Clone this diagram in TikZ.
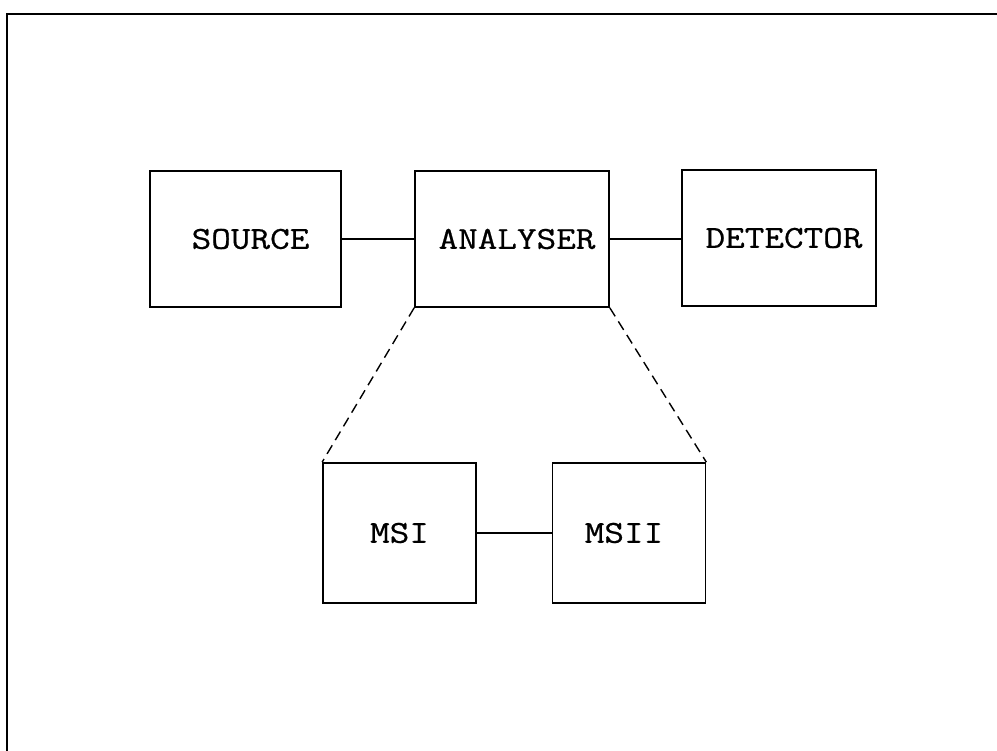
\documentclass[tikz,border=0pt]{standalone}
\usepackage{fontspec}
\usepackage{graphicx}
\newfontfamily\typefont[FakeBold=0.6]{Latin Modern Mono}
\newcommand{\lbltext}[1]{\scalebox{1.19}[1]{#1}}
\begin{document}
\begin{tikzpicture}[x=1pt,y=-1pt,
  blockbox/.style={draw, line width=1.7pt, minimum width=0pt, minimum height=0pt, inner sep=0pt, font=\typefont\bfseries\fontsize{32}{32}\selectfont},
  link/.style={line width=1.7pt},
  dashlink/.style={line width=1.4pt, dash pattern=on 10pt off 6pt}]
\useasboundingbox (0,0) rectangle (997,751);
\fill[white] (0,0) rectangle (997,751);
% frame
\coordinate (ftl) at (7,14);
\coordinate (ftr) at (997,14);
\coordinate (fbl) at (7,751);
\draw[line width=2.6pt] (ftr) -- (ftl) -- (fbl);
% blocks
\node[blockbox, minimum width=191pt, minimum height=136pt] (src) at (245.5,239) {\raisebox{-2pt}{\hspace*{10pt}\lbltext{SOURCE}}};
\node[blockbox, minimum width=194pt, minimum height=136pt] (ana) at (512,239) {\raisebox{-2pt}{\hspace*{10pt}\lbltext{ANALYSER}}};
\node[blockbox, minimum width=194pt, minimum height=136pt] (det) at (779,238) {\raisebox{-2pt}{\hspace*{10pt}\lbltext{DETECTOR}}};
\node[blockbox, minimum width=153pt, minimum height=140pt] (ms1) at (399.5,533) {\lbltext{MSI}};
\node[blockbox, minimum width=153pt, minimum height=140pt] (ms2) at (629,533) {\hspace*{-10pt}\lbltext{MSII}};
% connectors
\draw[link] (src.east) -- (ana.west |- src.east);
\draw[link] (ana.east) -- (det.west |- ana.east);
\draw[link] (ms1.east) -- (ms2.west);
\draw[dashlink] (ana.south west) -- (ms1.north west);
\draw[dashlink] (ana.south east) -- (ms2.north east);
\end{tikzpicture}
\end{document}
